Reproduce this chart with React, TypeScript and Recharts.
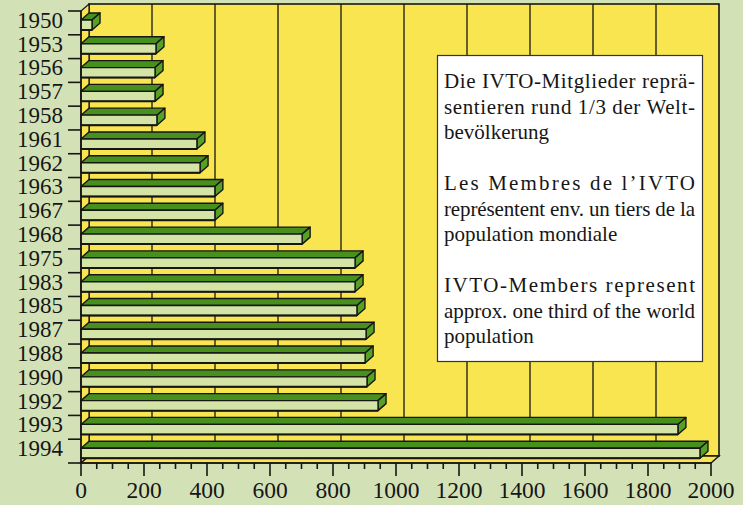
import React from 'react';
import { BarChart, Bar, XAxis, YAxis, ReferenceArea } from 'recharts';

// ---- data ----
const years = ['1950', '1953', '1956', '1957', '1958', '1961', '1962', '1963', '1967', '1968', '1975', '1983', '1985', '1987', '1988', '1990', '1992', '1993', '1994'];
const members = [35, 238, 235, 235, 241, 368, 378, 425, 425, 702, 870, 870, 876, 905, 902, 908, 943, 1895, 1965];
const xMajorTicks = [0, 200, 400, 600, 800, 1000, 1200, 1400, 1600, 1800, 2000];
const xAllTicks = [0, 50, 100, 150, 200, 250, 300, 350, 400, 450, 500, 550, 600, 650, 700, 750, 800, 850, 900, 950, 1000, 1050, 1100, 1150, 1200, 1250, 1300, 1350, 1400, 1450, 1500, 1550, 1600, 1650, 1700, 1750, 1800, 1850, 1900, 1950, 2000];
const gridValues = [200, 400, 600, 800, 1000, 1200, 1400, 1600, 1800];
const X_MAX = 2000;

const noteLines: { text: string; justify: boolean; gapBefore: boolean }[] = [
  { text: 'Die IVTO-Mitglieder reprä-', justify: true, gapBefore: false },
  { text: 'sentieren rund 1/3 der Welt-', justify: true, gapBefore: false },
  { text: 'bevölkerung', justify: false, gapBefore: false },
  { text: 'Les Membres de l\u2019IVTO', justify: true, gapBefore: true },
  { text: 'représentent env. un tiers de la', justify: true, gapBefore: false },
  { text: 'population mondiale', justify: false, gapBefore: false },
  { text: 'IVTO-Members represent', justify: true, gapBefore: true },
  { text: 'approx. one third of the world', justify: true, gapBefore: false },
  { text: 'population', justify: false, gapBefore: false },
];

const data = years.map((year, i) => ({ year, value: members[i] }));

// ---- style ----
const BG = '#d3e2b6';
const YELLOW = '#f9e54f';
const INK = '#161616';
const TOP = '#47901e';
const SIDE = '#58a024';
const FRONT = '#d3e4a6';
const DX = 8;
const DY = 7;
const FONT = '"Liberation Serif", "Times New Roman", serif';

const Bar3D = (props: any) => {
  const { x, y, width, height } = props;
  if (x == null || y == null) return null;
  const fy = y + 2;
  const w = Math.max(width || 0, 0);
  const h = height || 0;
  return (
    <g stroke={INK} strokeWidth={1.4} strokeLinejoin="round">
      <polygon points={`${x},${fy} ${x + DX},${fy - DY} ${x + w + DX},${fy - DY} ${x + w},${fy}`} fill={TOP} />
      <polygon points={`${x + w},${fy} ${x + w + DX},${fy - DY} ${x + w + DX},${fy + h - DY} ${x + w},${fy + h}`} fill={SIDE} />
      <rect x={x} y={fy} width={w} height={h} fill={FRONT} />
      <line x1={x} y1={fy + h} x2={x + w} y2={fy + h} strokeWidth={2} />
    </g>
  );
};

const Walls = (props: any) => {
  const { x, y, width, height } = props;
  if (x == null || y == null) return null;
  const bx = x + DX;
  const by = y - DY;
  return (
    <g>
      <rect x={bx} y={by} width={width} height={height} fill={YELLOW} stroke={INK} strokeWidth={1.6} />
      <polygon points={`${x},${y} ${bx},${by} ${bx},${by + height} ${x},${y + height}`} fill={YELLOW} stroke={INK} strokeWidth={1.2} />
      <polygon points={`${x},${y + height} ${bx},${by + height} ${bx + width},${by + height} ${x + width},${y + height}`} fill={YELLOW} stroke={INK} strokeWidth={1.4} />
      {gridValues.map((v) => {
        const lx = bx + (width * v) / X_MAX;
        return <line key={v} x1={lx} y1={by} x2={lx} y2={by + height} stroke={INK} strokeWidth={1.3} />;
      })}
    </g>
  );
};

const XTick = (props: any) => {
  const { x, y, payload } = props;
  const v = payload?.value;
  const major = xMajorTicks.includes(v);
  return (
    <g>
      <line x1={x} y1={y} x2={x} y2={y + (major ? 13 : 6)} stroke={INK} strokeWidth={1.6} />
      {major && (
        <text x={x} y={y + 35} textAnchor="middle" fontFamily={FONT} fontSize={23.5} fill={INK}>
          {v}
        </text>
      )}
    </g>
  );
};

const YTick = (props: any) => {
  const { x, y, payload } = props;
  const off = payload?.offset ?? 11.9;
  const last = payload?.value === years[years.length - 1];
  return (
    <g>
      <line x1={x - 13} y1={y - off} x2={x} y2={y - off} stroke={INK} strokeWidth={1.6} />
      {last && <line x1={x - 13} y1={y + off} x2={x} y2={y + off} stroke={INK} strokeWidth={1.6} />}
      <text x={x - 18} y={y + 5} textAnchor="end" fontFamily={FONT} fontSize={23} fill={INK}>
        {payload?.value}
      </text>
    </g>
  );
};

const Note = () => {
  let baseline = 88;
  const step = 25.5;
  const items = noteLines.map((l, i) => {
    if (i > 0) baseline += l.gapBefore ? step * 2 : step;
    return (
      <text
        key={i}
        x={444}
        y={baseline}
        fontFamily={FONT}
        fontSize={21}
        fill={INK}
        {...(l.justify ? { textLength: 251, lengthAdjust: 'spacing' } : {})}
      >
        {l.text}
      </text>
    );
  });
  return (
    <svg width={743} height={505} style={{ position: 'absolute', left: 0, top: 0, pointerEvents: 'none' }}>
      <rect x={437.5} y={55.5} width={265} height={306} fill="#ffffff" stroke="#333" strokeWidth={1.2} />
      {items}
    </svg>
  );
};

export default function App() {
  return (
    <div style={{ position: 'absolute', left: 0, top: 0, width: 743, height: 505, background: BG, overflow: 'hidden' }}>
      <BarChart width={743} height={505} data={data} layout="vertical" margin={{ top: 11, right: 32, bottom: 0, left: 0 }}>
        <ReferenceArea x1={0} x2={X_MAX} shape={Walls} ifOverflow="visible" />
        <XAxis
          type="number"
          domain={[0, X_MAX]}
          ticks={xAllTicks}
          interval={0}
          tick={(p: any) => <XTick {...p} />}
          tickLine={false}
          tickSize={0}
          tickMargin={0}
          axisLine={{ stroke: INK, strokeWidth: 1.6 }}
          height={42}
        />
        <YAxis
          type="category"
          dataKey="year"
          width={81}
          interval={0}
          tick={(p: any) => <YTick {...p} />}
          tickLine={false}
          tickSize={0}
          tickMargin={0}
          axisLine={{ stroke: INK, strokeWidth: 1.6 }}
        />
        <Bar dataKey="value" barSize={10} shape={Bar3D} isAnimationActive={false} />
      </BarChart>
      <Note />
    </div>
  );
}
